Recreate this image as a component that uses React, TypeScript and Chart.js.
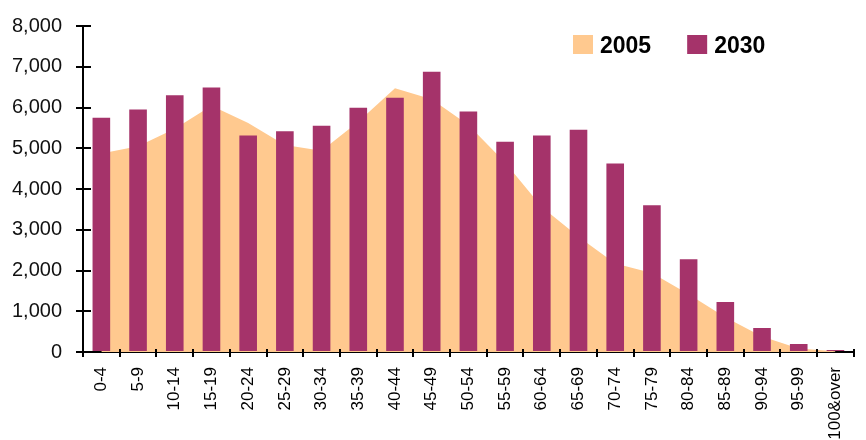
import React, { useEffect, useRef } from "react";
import { Chart, registerables } from "chart.js";

Chart.register(...registerables);

const categories = [
  "0-4", "5-9", "10-14", "15-19", "20-24", "25-29", "30-34", "35-39", "40-44", "45-49",
  "50-54", "55-59", "60-64", "65-69", "70-74", "75-79", "80-84", "85-89", "90-94", "95-99", "100&over",
];
const values2005 = [
  4870, 5050, 5480, 6040, 5620, 5080, 4940, 5650, 6470, 6200,
  5570, 4650, 3560, 2830, 2170, 1940, 1420, 850, 380, 85, 20,
];
const values2030 = [
  5750, 5950, 6300, 6490, 5310, 5415, 5555, 5995, 6240, 6875,
  5900, 5160, 5310, 5455, 4625, 3600, 2275, 1225, 590, 195, 50,
];
const seriesLabels = ["2005", "2030"];
const yMin = 0;
const yMax = 8000;
const yStep = 1000;

const FONT = "'Liberation Sans', Arial, sans-serif";
const PEACH = "#FFC98F";
const PLUM = "#A5336A";

const innerTicks = {
  id: "innerTicks",
  afterDraw(chart: any) {
    const { ctx, chartArea } = chart;
    const xs = chart.scales.x;
    const ys = chart.scales.y;
    ctx.save();
    ctx.strokeStyle = "#000";
    ctx.lineWidth = 2;
    ctx.beginPath();
    ys.ticks.forEach((_: any, i: number) => {
      const y = Math.round(ys.getPixelForTick(i));
      ctx.moveTo(chartArea.left, y);
      ctx.lineTo(chartArea.left + 8, y);
    });
    const n = xs.ticks.length;
    const half = (xs.getPixelForTick(1) - xs.getPixelForTick(0)) / 2;
    for (let i = 0; i <= n; i++) {
      const x = Math.round(xs.getPixelForTick(Math.min(i, n - 1)) + (i < n ? -half : half));
      ctx.moveTo(x, chartArea.bottom);
      ctx.lineTo(x, chartArea.bottom - 3);
    }
    ctx.stroke();
    ctx.restore();
  },
};

const customLegend = {
  id: "customLegend",
  afterDraw(chart: any) {
    const { ctx } = chart;
    ctx.save();
    ctx.font = `bold 23px ${FONT}`;
    ctx.textBaseline = "alphabetic";
    let x = 573;
    const order = [1, 0];
    order.forEach((di) => {
      const ds = chart.data.datasets[di];
      ctx.fillStyle = ds.backgroundColor;
      ctx.fillRect(x, 35, 20, 19);
      ctx.fillStyle = "#000";
      ctx.fillText(ds.label, x + 27, 53);
      x += 27 + ctx.measureText(ds.label).width + 36;
    });
    ctx.restore();
  },
};

export default function App() {
  const ref = useRef<HTMLCanvasElement>(null);
  useEffect(() => {
    document.body.style.margin = "0";
    const chart = new Chart(ref.current!, {
      type: "bar",
      data: {
        labels: categories,
        datasets: [
          {
            type: "bar",
            label: seriesLabels[1],
            data: values2030,
            backgroundColor: PLUM,
            borderWidth: 0,
            barPercentage: 0.48,
            categoryPercentage: 1,
            order: 1,
          } as any,
          {
            type: "line",
            label: seriesLabels[0],
            data: values2005,
            backgroundColor: PEACH,
            borderColor: "transparent",
            borderWidth: 0,
            pointRadius: 0,
            tension: 0,
            fill: "origin",
            order: 2,
          } as any,
        ],
      },
      options: {
        responsive: false,
        animation: false,
        layout: { padding: { left: 0, right: 7, top: 25, bottom: 0 } },
        plugins: { legend: { display: false }, tooltip: { enabled: false } },
        scales: {
          x: {
            offset: true,
            grid: { offset: true, drawOnChartArea: false, drawTicks: true, tickLength: 5, color: "#000", lineWidth: 2 },
            border: { color: "#000", width: 2 },
            ticks: {
              autoSkip: false,
              minRotation: 90,
              maxRotation: 90,
              padding: 10,
              color: "#000",
              font: { family: FONT, size: 17 },
            },
            afterFit: (s: any) => {
              s.height = 88;
            },
          },
          y: {
            min: yMin,
            max: yMax,
            grid: { drawOnChartArea: false, drawTicks: true, tickLength: 7, color: "#000", lineWidth: 2 },
            border: { color: "#000", width: 2 },
            ticks: {
              stepSize: yStep,
              padding: 14,
              color: "#111",
              font: { family: FONT, size: 20 },
              callback: (v: any) => Number(v).toLocaleString("en-US"),
            },
            afterFit: (s: any) => {
              s.width = 83;
            },
          },
        },
      },
      plugins: [innerTicks, customLegend],
    });
    return () => chart.destroy();
  }, []);
  return (
    <div style={{ width: 866, height: 440 }}>
      <canvas ref={ref} width={866} height={440} style={{ display: "block", width: 866, height: 440 }} />
    </div>
  );
}
